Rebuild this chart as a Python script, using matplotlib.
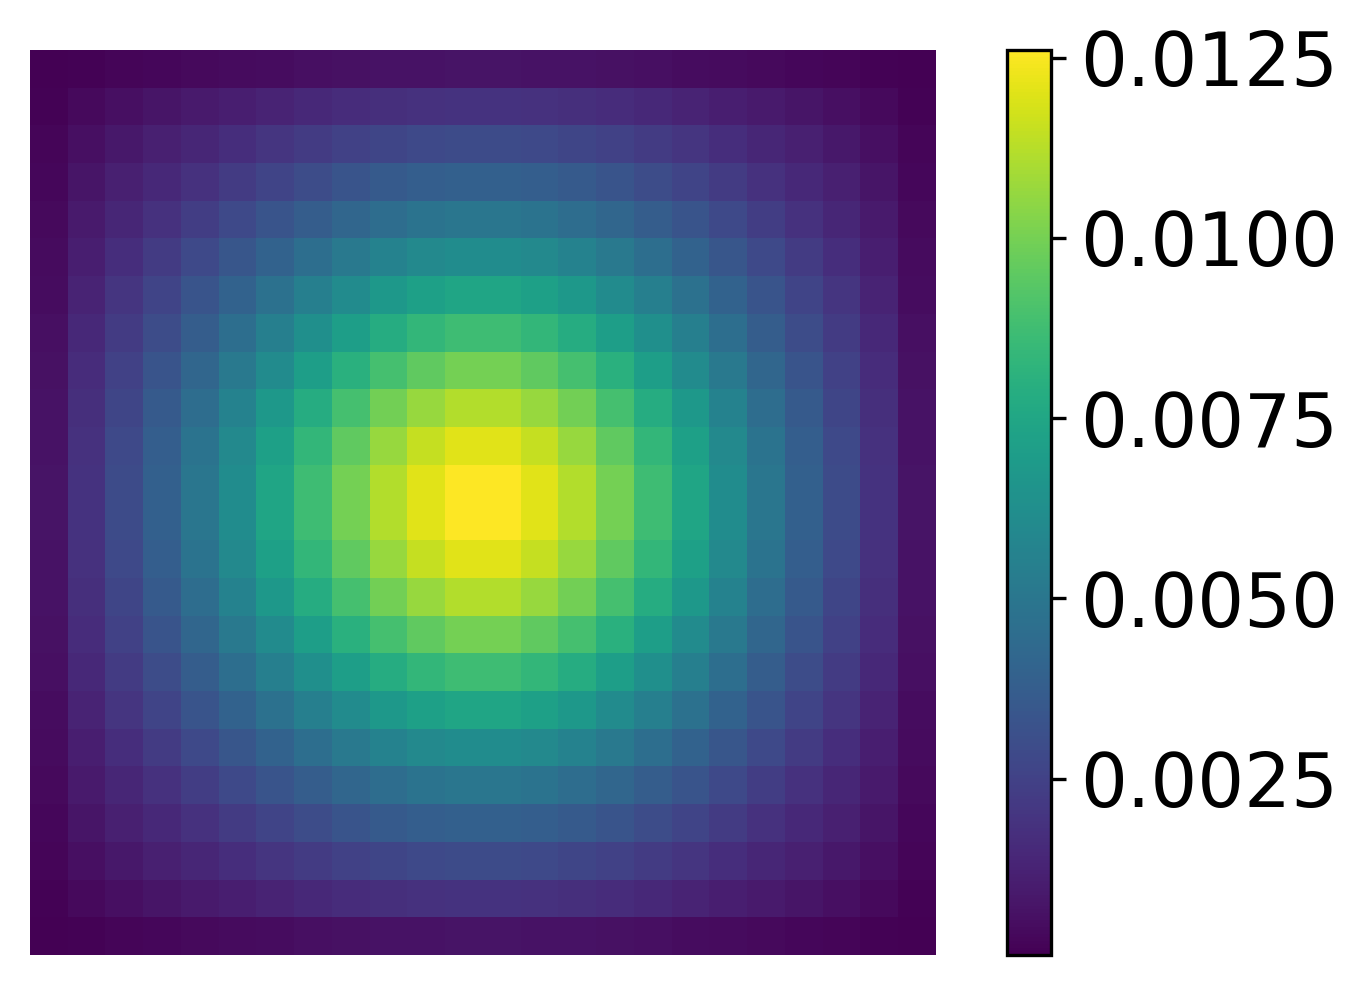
import numpy as np
import matplotlib
matplotlib.use("Agg")
import matplotlib.pyplot as plt

# grid values, in units of 1e-4 (24 x 24 cells)
row_00 = [0.55, 1.46, 2.17, 2.85, 3.52, 4.22, 4.88, 5.48, 6.02, 6.47, 6.76, 6.93, 6.93, 6.76, 6.47, 6.02, 5.48, 4.88, 4.22, 3.52, 2.85, 2.17, 1.46, 0.55]
row_01 = [1.46, 3.87, 5.77, 7.58, 9.39, 11.27, 13.09, 14.77, 16.27, 17.55, 18.40, 18.91, 18.91, 18.40, 17.55, 16.27, 14.77, 13.09, 11.27, 9.39, 7.58, 5.77, 3.87, 1.46]
row_02 = [2.17, 5.77, 8.65, 11.38, 14.12, 17.00, 19.80, 22.39, 24.75, 26.80, 28.17, 28.99, 28.99, 28.17, 26.80, 24.75, 22.39, 19.80, 17.00, 14.12, 11.38, 8.65, 5.77, 2.17]
row_03 = [2.85, 7.58, 11.38, 14.99, 18.65, 22.52, 26.31, 29.84, 33.11, 35.95, 37.89, 39.07, 39.07, 37.89, 35.95, 33.11, 29.84, 26.31, 22.52, 18.65, 14.99, 11.38, 7.58, 2.85]
row_04 = [3.52, 9.39, 14.12, 18.65, 23.27, 28.16, 33.01, 37.57, 41.83, 45.59, 48.20, 49.79, 49.79, 48.20, 45.59, 41.83, 37.57, 33.01, 28.16, 23.27, 18.65, 14.12, 9.39, 3.52]
row_05 = [4.22, 11.27, 17.00, 22.52, 28.16, 34.20, 40.25, 45.98, 51.40, 56.26, 59.66, 61.76, 61.76, 59.66, 56.26, 51.40, 45.98, 40.25, 34.20, 28.16, 22.52, 17.00, 11.27, 4.22]
row_06 = [4.88, 13.09, 19.80, 26.31, 33.01, 40.25, 47.56, 54.57, 61.28, 67.36, 71.67, 74.36, 74.36, 71.67, 67.36, 61.28, 54.57, 47.56, 40.25, 33.01, 26.31, 19.80, 13.09, 4.88]
row_07 = [5.48, 14.77, 22.39, 29.84, 37.57, 45.98, 54.57, 62.90, 70.95, 78.34, 83.63, 86.97, 86.97, 83.63, 78.34, 70.95, 62.90, 54.57, 45.98, 37.57, 29.84, 22.39, 14.77, 5.48]
row_08 = [6.02, 16.27, 24.75, 33.11, 41.83, 51.40, 61.28, 70.95, 80.39, 89.19, 95.54, 99.57, 99.57, 95.54, 89.19, 80.39, 70.95, 61.28, 51.40, 41.83, 33.11, 24.75, 16.27, 6.02]
row_09 = [6.47, 17.55, 26.80, 35.95, 45.59, 56.26, 67.36, 78.34, 89.19, 99.37, 106.81, 111.55, 111.55, 106.81, 99.37, 89.19, 78.34, 67.36, 56.26, 45.59, 35.95, 26.80, 17.55, 6.47]
row_10 = [6.76, 18.40, 28.17, 37.89, 48.20, 59.66, 71.67, 83.63, 95.54, 106.81, 115.07, 120.37, 120.37, 115.07, 106.81, 95.54, 83.63, 71.67, 59.66, 48.20, 37.89, 28.17, 18.40, 6.76]
row_11 = [6.93, 18.91, 28.99, 39.07, 49.79, 61.76, 74.36, 86.97, 99.57, 111.55, 120.37, 126.04, 126.04, 120.37, 111.55, 99.57, 86.97, 74.36, 61.76, 49.79, 39.07, 28.99, 18.91, 6.93]
row_12 = [6.93, 18.91, 28.99, 39.07, 49.79, 61.76, 74.36, 86.97, 99.57, 111.55, 120.37, 126.04, 126.04, 120.37, 111.55, 99.57, 86.97, 74.36, 61.76, 49.79, 39.07, 28.99, 18.91, 6.93]
row_13 = [6.76, 18.40, 28.17, 37.89, 48.20, 59.66, 71.67, 83.63, 95.54, 106.81, 115.07, 120.37, 120.37, 115.07, 106.81, 95.54, 83.63, 71.67, 59.66, 48.20, 37.89, 28.17, 18.40, 6.76]
row_14 = [6.47, 17.55, 26.80, 35.95, 45.59, 56.26, 67.36, 78.34, 89.19, 99.37, 106.81, 111.55, 111.55, 106.81, 99.37, 89.19, 78.34, 67.36, 56.26, 45.59, 35.95, 26.80, 17.55, 6.47]
row_15 = [6.02, 16.27, 24.75, 33.11, 41.83, 51.40, 61.28, 70.95, 80.39, 89.19, 95.54, 99.57, 99.57, 95.54, 89.19, 80.39, 70.95, 61.28, 51.40, 41.83, 33.11, 24.75, 16.27, 6.02]
row_16 = [5.48, 14.77, 22.39, 29.84, 37.57, 45.98, 54.57, 62.90, 70.95, 78.34, 83.63, 86.97, 86.97, 83.63, 78.34, 70.95, 62.90, 54.57, 45.98, 37.57, 29.84, 22.39, 14.77, 5.48]
row_17 = [4.88, 13.09, 19.80, 26.31, 33.01, 40.25, 47.56, 54.57, 61.28, 67.36, 71.67, 74.36, 74.36, 71.67, 67.36, 61.28, 54.57, 47.56, 40.25, 33.01, 26.31, 19.80, 13.09, 4.88]
row_18 = [4.22, 11.27, 17.00, 22.52, 28.16, 34.20, 40.25, 45.98, 51.40, 56.26, 59.66, 61.76, 61.76, 59.66, 56.26, 51.40, 45.98, 40.25, 34.20, 28.16, 22.52, 17.00, 11.27, 4.22]
row_19 = [3.52, 9.39, 14.12, 18.65, 23.27, 28.16, 33.01, 37.57, 41.83, 45.59, 48.20, 49.79, 49.79, 48.20, 45.59, 41.83, 37.57, 33.01, 28.16, 23.27, 18.65, 14.12, 9.39, 3.52]
row_20 = [2.85, 7.58, 11.38, 14.99, 18.65, 22.52, 26.31, 29.84, 33.11, 35.95, 37.89, 39.07, 39.07, 37.89, 35.95, 33.11, 29.84, 26.31, 22.52, 18.65, 14.99, 11.38, 7.58, 2.85]
row_21 = [2.17, 5.77, 8.65, 11.38, 14.12, 17.00, 19.80, 22.39, 24.75, 26.80, 28.17, 28.99, 28.99, 28.17, 26.80, 24.75, 22.39, 19.80, 17.00, 14.12, 11.38, 8.65, 5.77, 2.17]
row_22 = [1.46, 3.87, 5.77, 7.58, 9.39, 11.27, 13.09, 14.77, 16.27, 17.55, 18.40, 18.91, 18.91, 18.40, 17.55, 16.27, 14.77, 13.09, 11.27, 9.39, 7.58, 5.77, 3.87, 1.46]
row_23 = [0.55, 1.46, 2.17, 2.85, 3.52, 4.22, 4.88, 5.48, 6.02, 6.47, 6.76, 6.93, 6.93, 6.76, 6.47, 6.02, 5.48, 4.88, 4.22, 3.52, 2.85, 2.17, 1.46, 0.55]

cbar_ticks = [0.0025, 0.0050, 0.0075, 0.0100, 0.0125]

rows = [row_00, row_01, row_02, row_03, row_04, row_05, row_06, row_07,
        row_08, row_09, row_10, row_11, row_12, row_13, row_14, row_15,
        row_16, row_17, row_18, row_19, row_20, row_21, row_22, row_23]
Z = np.array(rows) * 1e-4

W, H = 1372, 986
fig = plt.figure(figsize=(W / 300, H / 300), dpi=300)

ax = fig.add_axes([30 / W, 31 / H, 906 / W, 905 / H])
im = ax.imshow(Z, cmap="viridis", interpolation="nearest", aspect="auto")
ax.axis("off")

cax = fig.add_axes([1006.5 / W, 31 / H, 44.5 / W, 905 / H])
cb = fig.colorbar(im, cax=cax)
cb.set_ticks(cbar_ticks)
cb.set_ticklabels([f"{t:.4f}" for t in cbar_ticks])
cb.ax.tick_params(labelsize=17.7)

fig.savefig("out.png", dpi=300)
